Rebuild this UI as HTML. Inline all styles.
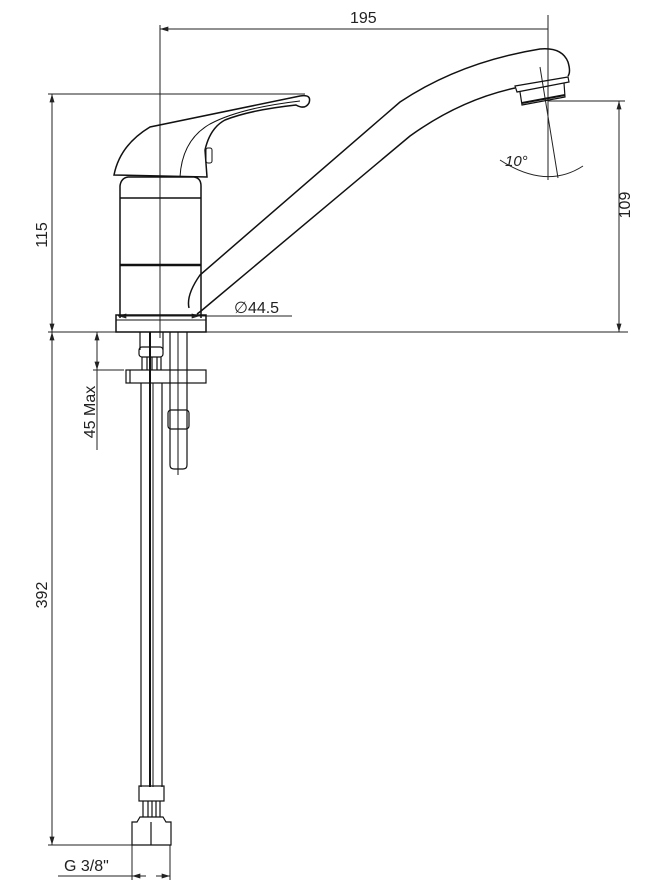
<!DOCTYPE html>
<html><head><style>
html,body{margin:0;padding:0;background:#fff;}
svg{display:block;}
text{font-family:"Liberation Sans",sans-serif;fill:#222;}
</style></head><body>
<svg width="648" height="896" viewBox="0 0 648 896" xmlns="http://www.w3.org/2000/svg">
<defs>
<marker id="a" viewBox="0 0 10 6" refX="10" refY="3" markerWidth="10" markerHeight="5" orient="auto-start-reverse" markerUnits="userSpaceOnUse"><path d="M0,0 L10,3 L0,6 z" fill="#222"/></marker>
</defs>
<g stroke="#222" fill="none" stroke-width="1">
<line x1="160" y1="25" x2="160" y2="338"/>
<line x1="160" y1="29" x2="548" y2="29" marker-start="url(#a)"/>
<line x1="548" y1="15" x2="548" y2="180"/>
<line x1="48" y1="94" x2="305" y2="94"/>
<line x1="48" y1="332" x2="628" y2="332"/>
<line x1="52" y1="94" x2="52" y2="332" marker-start="url(#a)" marker-end="url(#a)"/>
<line x1="52" y1="332" x2="52" y2="845" marker-start="url(#a)" marker-end="url(#a)"/>
<line x1="48" y1="845" x2="135" y2="845"/>
<line x1="97" y1="332" x2="97" y2="370" marker-start="url(#a)" marker-end="url(#a)"/>
<line x1="97" y1="370" x2="97" y2="450"/>
<line x1="93" y1="370" x2="124" y2="370"/>
<line x1="548" y1="101" x2="625" y2="101"/>
<line x1="619" y1="101" x2="619" y2="332" marker-start="url(#a)" marker-end="url(#a)"/>
<line x1="132" y1="845" x2="132" y2="880"/>
<line x1="170" y1="845" x2="170" y2="880"/>
<line x1="58" y1="876" x2="132" y2="876"/>
<line x1="132" y1="876" x2="146" y2="876" marker-start="url(#a)"/>
<line x1="156" y1="876" x2="170" y2="876" marker-end="url(#a)"/>
<line x1="118" y1="316" x2="200" y2="316" marker-start="url(#a)" marker-end="url(#a)"/>
<line x1="200" y1="316" x2="292" y2="316"/>
<line x1="540" y1="67" x2="558" y2="178"/>
<path d="M500,160 Q546,190 583,166"/>
</g>
<g stroke="#111" fill="none" stroke-width="1.5">
<path d="M120,318 L120,186 Q121,178 128,177 L194,177 Q201,178 201,186 L201,318"/>
<line x1="120" y1="198" x2="201" y2="198"/>
<line x1="120" y1="265" x2="201" y2="265" stroke-width="2.5"/>
<rect x="116" y="315" width="90" height="17"/>
<line x1="116" y1="320" x2="206" y2="320" stroke-width="1"/>
<path d="M114,175 Q120,145 150,127 L300,96 Q312,94 309,103 Q305,110 296,105 Q250,110 225,120 Q210,128 205,150 L207,177 Z"/>
<path d="M180,177 Q182,140 210,124 Q240,108 300,101" stroke-width="1"/>
<rect x="206" y="148" width="6" height="15" rx="2" stroke-width="1"/>
<path d="M189,308 Q186,295 200,275 L400,102 Q460,62 540,49 Q562,47 568,62 Q571,72 568,76"/>
<path d="M197,314 Q200,312 207,306 L410,136 Q460,100 515,88"/>
<path d="M515,86 L568,77 L569,82 L517,92 Z" stroke-width="1.2"/>
<path d="M520,92 L522,105 L565,97 L564,83" stroke-width="1.2"/>
<line x1="522" y1="103" x2="565" y2="95" stroke-width="2"/>
<g stroke-width="1.2">
<path d="M140,332 L140,350 M163,332 L163,350"/>
<rect x="139" y="347" width="24" height="10" rx="3"/>
<path d="M142,357 L142,370 M147,357 L147,370 M152,357 L152,370 M157,357 L157,370 M161,357 L161,370"/>
<rect x="126" y="370" width="80" height="13"/>
<line x1="130" y1="370" x2="130" y2="383"/>
<line x1="141" y1="383" x2="141" y2="787"/>
<line x1="150" y1="332" x2="150" y2="787" stroke-width="2"/>
<line x1="153" y1="383" x2="153" y2="787" stroke-width="1"/>
<line x1="162" y1="383" x2="162" y2="787"/>
<path d="M170,332 L170,465 Q170,469 174,469 L183,469 Q187,469 187,465 L187,332"/>
<rect x="168" y="410" width="21" height="19" rx="3"/>
<line x1="178" y1="332" x2="178" y2="475" stroke-width="1"/>
<rect x="139" y="786" width="25" height="15"/>
<path d="M143,801 L143,817 M148,801 L148,817 M152,801 L152,817 M156,801 L156,817 M160,801 L160,817"/>
<path d="M140,817 L163,817 L166,822 L171,822 L171,845 L132,845 L132,822 L137,822 Z"/>
<line x1="151" y1="822" x2="151" y2="845"/>
</g>
</g>
<text x="350" y="23" font-size="16">195</text>
<text x="234" y="313" font-size="16">∅44.5</text>
<text x="505" y="166" font-size="15" font-style="italic">10°</text>
<text x="64" y="871" font-size="16">G 3/8"</text>
<text transform="translate(47,235) rotate(-90)" font-size="16" text-anchor="middle">115</text>
<text transform="translate(47,595) rotate(-90)" font-size="16" text-anchor="middle">392</text>
<text transform="translate(95,412) rotate(-90)" font-size="16" text-anchor="middle">45 Max</text>
<text transform="translate(630,205) rotate(-90)" font-size="16" text-anchor="middle">109</text>
</svg>
</body></html>
